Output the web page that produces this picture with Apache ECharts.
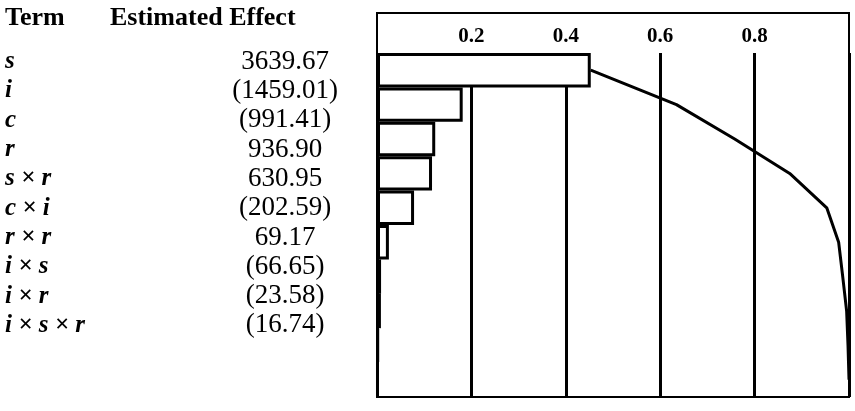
<!DOCTYPE html>
<html>
<head>
<meta charset="utf-8">
<script src="https://cdn.jsdelivr.net/npm/echarts@6/dist/echarts.min.js"></script>
<style>
  html, body { margin: 0; padding: 0; background: #fff; }
  #chart-container { width: 855px; height: 411px; }
</style>
</head>
<body>
<div id="chart-container"></div>
<script>
var terms = ['s', 'i', 'c', 'r', 's × r', 'c × i', 'r × r', 'i × s', 'i × r', 'i × s × r'];
var effects = [3639.67, -1459.01, -991.41, 936.90, 630.95, -202.59, 69.17, -66.65, -23.58, -16.74];
var tickLabels = ['0.2', '0.4', '0.6', '0.8'];
var headers = ['Term', 'Estimated Effect'];

var total = effects.reduce(function (a, b) { return a + Math.abs(b); }, 0);
var share = effects.map(function (v) { return Math.abs(v) / total; });
var cumulative = [];
share.reduce(function (acc, v) { acc += v; cumulative.push(acc); return acc; }, 0);

// negative effects are shown in brackets
var effectLabels = effects.map(function (v) {
  return v < 0 ? '(' + Math.abs(v).toFixed(2) + ')' : v.toFixed(2);
});

var serif = '"Liberation Serif", "DejaVu Serif", serif';

var dom = document.getElementById('chart-container');
var myChart = echarts.init(dom, null, { renderer: 'canvas' });

var option = {
  animation: false,
  backgroundColor: '#fff',
  grid: [
    { left: 377, right: 6, top: 53, bottom: 14 },
    { left: 340, width: 1, top: 47, height: 293 },
    { left: 377, right: 6, top: 13, bottom: 14, show: true, borderColor: '#000', borderWidth: 2, backgroundColor: 'transparent' }
  ],
  xAxis: [
    {
      gridIndex: 0,
      type: 'value',
      position: 'top',
      min: 0,
      max: 1,
      interval: 0.2,
      axisLine: { show: false },
      axisTick: { show: false },
      splitLine: { lineStyle: { color: '#000', width: 3 } },
      axisLabel: {
        margin: 6,
        color: '#000',
        fontFamily: serif,
        fontWeight: 'bold',
        fontSize: 21,
        formatter: function (v) {
          var i = Math.round(v / 0.2) - 1;
          return tickLabels[i] || '';
        }
      }
    },
    { gridIndex: 1, type: 'value', show: false },
    { gridIndex: 2, type: 'value', show: false }
  ],
  yAxis: [
    { gridIndex: 0, type: 'category', data: terms, inverse: true, show: false },
    {
      gridIndex: 1,
      type: 'category',
      data: terms,
      inverse: true,
      position: 'left',
      axisLine: { show: false },
      axisTick: { show: false },
      axisLabel: {
        interval: 0,
        align: 'left',
        margin: 335,
        color: '#000',
        fontFamily: serif,
        fontStyle: 'italic',
        fontWeight: 'bold',
        fontSize: 25
      }
    },
    {
      gridIndex: 1,
      type: 'category',
      data: effectLabels,
      inverse: true,
      position: 'left',
      offset: 0,
      axisLine: { show: false },
      axisTick: { show: false },
      axisLabel: {
        interval: 0,
        align: 'center',
        margin: 55,
        color: '#000',
        fontFamily: serif,
        fontSize: 27
      }
    },
    { gridIndex: 2, type: 'category', show: false }
  ],
  graphic: [
    { type: 'text', left: 5, top: 5, style: { text: headers[0], fill: '#000', font: 'bold 26px ' + serif } },
    { type: 'text', left: 110, top: 5, style: { text: headers[1], fill: '#000', font: 'bold 26px ' + serif } }
  ],
  series: [
    {
      type: 'bar',
      xAxisIndex: 0,
      yAxisIndex: 0,
      data: share,
      barCategoryGap: '0%',
      itemStyle: { color: '#fff', borderColor: '#000', borderWidth: 3 }
    },
    {
      type: 'line',
      xAxisIndex: 0,
      yAxisIndex: 0,
      data: cumulative,
      symbol: 'none',
      z: 5,
      lineStyle: { color: '#000', width: 3 }
    }
  ]
};

myChart.setOption(option);
</script>
</body>
</html>
